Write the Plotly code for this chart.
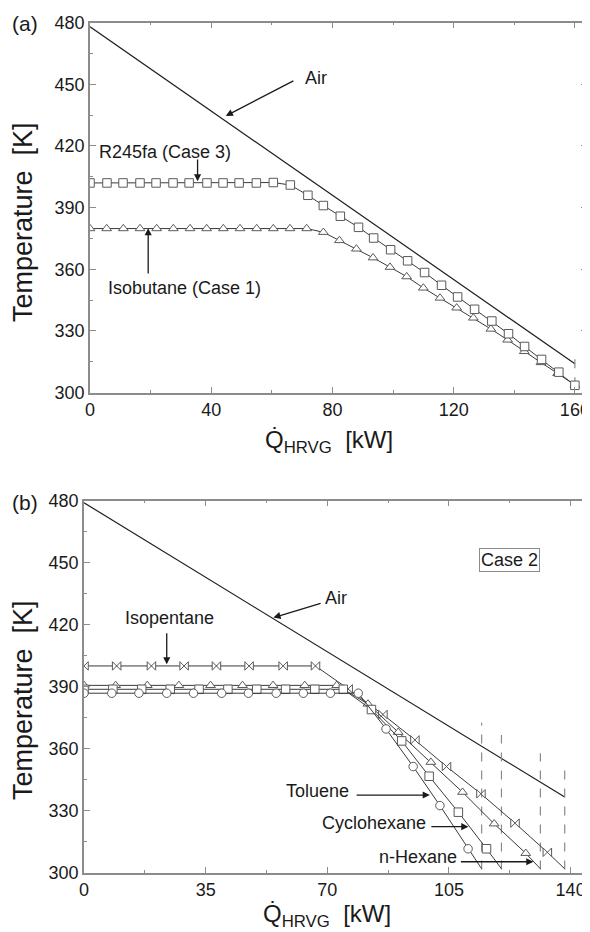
import plotly.graph_objects as go

# page body has an 8 px margin: the figure is drawn at (8, 8)
OX, OY = 8, 8
W, H = 590 - OX, 932 - OY
FONT = "Liberation Sans, Arial, Helvetica, sans-serif"

# ---------------- Panel (a) data ----------------
a_air_q = [0, 160]
a_air_t = [478, 314]

a_r245_q = [0, 5.6, 10.9, 16.5, 21.8, 27.4, 32.7, 38.6, 43.9, 49.2, 54.9, 60.5, 66.1, 71.9, 77.0,
            82.6, 88.6, 93.6, 99.2, 104.8, 110.4, 116.0, 121.3, 126.9, 132.6, 138.1, 143.4, 149.0, 154.7, 160.0]
a_r245_t = [402, 402, 402, 402, 402, 402, 402, 402, 402, 402, 402, 402.2, 401, 396, 391,
            385.8, 380.4, 375.2, 369.5, 364.1, 358.4, 352.2, 346.5, 340.5, 334.8, 328.6, 322.4, 316.1, 309.9, 303.5]

a_isob_q = [0, 5.5, 11.0, 16.5, 22.0, 27.5, 33.0, 38.5, 44.0, 49.5, 55.0, 60.5, 66.0, 71.5, 77.0,
            82.3, 87.9, 93.4, 99.0, 104.5, 110.0, 115.5, 121.0, 126.5, 132.3, 137.8, 143.3, 148.8, 154.3, 160.0]
a_isob_t = [379.8, 379.8, 379.8, 379.8, 379.8, 379.8, 379.8, 379.8, 379.8, 379.8, 379.8, 379.8, 379.8, 379.8, 378.0,
            374.0, 369.9, 365.6, 361.0, 356.4, 350.9, 346.0, 341.2, 336.3, 330.9, 325.6, 320.0, 314.6, 309.3, 303.6]

a_pinch_q = [160]
a_pinch_bottom = [303]
a_pinch_top = [320]

a_xticks = [0, 40, 80, 120, 160]

# ---------------- Panel (b) data ----------------
b_air_q = [0, 138.3]
b_air_t = [479, 336.5]

b_tol_q = [0, 8.0, 15.8, 23.8, 31.5, 39.6, 47.3, 55.3, 63.1, 70.9, 78.9, 86.9, 94.7, 102.4, 110.5]
b_tol_t = [386.8, 386.8, 386.8, 386.8, 386.8, 386.8, 386.8, 386.8, 386.8, 386.8, 386.8, 369.5, 351.3, 332.4, 311.5]
b_tol_end = (114.4, 301.8)

b_cyc_q = [0, 8.3, 16.6, 24.8, 33.1, 41.4, 49.7, 58.0, 66.4, 74.6, 82.7, 91.4, 99.3, 107.7, 115.8]
b_cyc_t = [388.7, 388.7, 388.7, 388.7, 388.7, 388.7, 388.7, 388.7, 388.7, 388.7, 378.9, 363.7, 346.6, 329.2, 311.5]
b_cyc_end = (120.1, 301.8)

b_hex_q = [0, 9.1, 18.2, 27.3, 36.4, 45.6, 54.4, 63.5, 72.7, 81.7, 90.4, 99.8, 108.9, 118.0, 127.1]
b_hex_t = [390.6, 390.6, 390.6, 390.6, 390.6, 390.6, 390.6, 390.6, 390.6, 381.6, 367.9, 353.4, 338.9, 323.6, 309.3]
b_hex_end = (131.3, 301.8)

b_ipe_q = [0, 9.4, 19.4, 28.8, 38.1, 47.5, 57.3, 66.6, 76.0, 86.0, 95.2, 104.3, 114.2, 124.0, 133.3]
b_ipe_t = [400, 400, 400, 400, 400, 400, 400, 400, 388.9, 376.5, 364.2, 351.3, 338.1, 323.9, 309.8]
b_ipe_end = (138.3, 301.8)

b_pinch_q = [114.4, 120.1, 131.3, 138.3]
b_pinch_top = [372.5, 366.6, 357.7, 350.4]
b_pinch_bottom = [301.5, 301.5, 301.5, 301.5]

b_xticks = [0, 35, 70, 105, 140]
yticks = [300, 330, 360, 390, 420, 450, 480]

LINE_C = "#3a3a3a"
MARK_C = "#5a5a5a"
AIR_C = "#1e1e1e"
DASH_C = "#8a8a8a"


def px(x):  # page pixel x -> paper fraction
    return (x - OX) / W


def py(y):  # page pixel y -> paper fraction
    return 1 - (y - OY) / H


fig = go.Figure()


def curve(q, t, end, symbol, xa, ya, size=8):
    lq = list(q) + ([end[0]] if end else [])
    lt = list(t) + ([end[1]] if end else [])
    fig.add_trace(go.Scatter(x=lq, y=lt, mode="lines", line=dict(color=LINE_C, width=1),
                             xaxis=xa, yaxis=ya, showlegend=False, hoverinfo="skip"))
    fig.add_trace(go.Scatter(x=q, y=t, mode="markers",
                             marker=dict(symbol=symbol, size=size, color="white",
                                         line=dict(color=MARK_C, width=1)),
                             xaxis=xa, yaxis=ya, showlegend=False, hoverinfo="skip"))


# Panel (a)
fig.add_trace(go.Scatter(x=a_air_q, y=a_air_t, mode="lines", line=dict(color=AIR_C, width=1.2),
                         xaxis="x", yaxis="y", showlegend=False))
for q, b, t in zip(a_pinch_q, a_pinch_bottom, a_pinch_top):
    fig.add_trace(go.Scatter(x=[q, q], y=[b, t], mode="lines",
                             line=dict(color=DASH_C, width=1.2, dash="dash"),
                             xaxis="x", yaxis="y", showlegend=False))
curve(a_isob_q, a_isob_t, None, "triangle-up", "x", "y", 8.5)
curve(a_r245_q, a_r245_t, None, "square", "x", "y", 8.5)

# Panel (b)
fig.add_trace(go.Scatter(x=b_air_q, y=b_air_t, mode="lines", line=dict(color=AIR_C, width=1.2),
                         xaxis="x2", yaxis="y2", showlegend=False))
for q, b, t in zip(b_pinch_q, b_pinch_bottom, b_pinch_top):
    fig.add_trace(go.Scatter(x=[q, q], y=[b, t], mode="lines",
                             line=dict(color=DASH_C, width=1.2, dash="dash"),
                             xaxis="x2", yaxis="y2", showlegend=False))
curve(b_ipe_q, b_ipe_t, b_ipe_end, "bowtie", "x2", "y2", 8.5)
curve(b_hex_q, b_hex_t, b_hex_end, "triangle-up", "x2", "y2", 8.5)
curve(b_cyc_q, b_cyc_t, b_cyc_end, "square", "x2", "y2", 8.5)
curve(b_tol_q, b_tol_t, b_tol_end, "circle", "x2", "y2", 8.5)

axis_common = dict(showline=True, mirror="allticks", linecolor="#8c8c8c", linewidth=1.5,
                   ticks="inside", ticklen=6, tickwidth=1.3, tickcolor="#8c8c8c",
                   showgrid=False, zeroline=False, automargin=False,
                   tickfont=dict(family=FONT, size=18, color="#1a1a1a"),
                   minor=dict(ticks="inside", ticklen=3, tickcolor="#8c8c8c", tickwidth=1.2, showgrid=False))

fig.update_layout(
    template="none",
    width=W, height=H, margin=dict(l=0, r=0, t=0, b=0, autoexpand=False),
    paper_bgcolor="white", plot_bgcolor="white",
    xaxis=dict(domain=[px(90), px(587)], range=[0, 164], tickvals=a_xticks, anchor="y",
               **{**axis_common, "minor": {**axis_common["minor"], "dtick": 20, "tick0": 0}}),
    yaxis=dict(domain=[py(392.5), py(22.7)], range=[300, 480], tickvals=yticks, anchor="x",
               **{**axis_common, "minor": {**axis_common["minor"], "dtick": 15, "tick0": 300}}),
    xaxis2=dict(domain=[px(84), min(1.0, px(588))], range=[0, 145], tickvals=b_xticks, anchor="y2",
                **{**axis_common, "minor": {**axis_common["minor"], "dtick": 17.5, "tick0": 0}}),
    yaxis2=dict(domain=[py(872.5), py(500.7)], range=[300, 480], tickvals=yticks, anchor="x2",
                **{**axis_common, "minor": {**axis_common["minor"], "dtick": 15, "tick0": 300}}),
)

ann = []
TF = dict(family=FONT, size=18, color="#1a1a1a")


def text(x, y, s, xr, yr, xanchor="left", font=None, **kw):
    ann.append(dict(x=x, y=y, xref=xr, yref=yr, text=s, showarrow=False, xanchor=xanchor,
                    yanchor="middle", font=font or TF, **kw))


def arrow(tx, ty, hx, hy, xr, yr):
    ann.append(dict(x=hx, y=hy, ax=tx, ay=ty, xref=xr, yref=yr, axref=xr, ayref=yr, text="",
                    showarrow=True, arrowhead=2, arrowsize=1.1, arrowwidth=1.3, arrowcolor="#1a1a1a",
                    standoff=0, startstandoff=0))


# panel (a) annotations
text(70.3, 453, "Air", "x", "y")
arrow(67.6, 452.1, 44.8, 434.6, "x", "y")
text(2.3, 417.2, "R245fa (Case 3)", "x", "y")
arrow(35.5, 414.1, 35.5, 402.8, "x", "y")
text(5.3, 350.9, "Isobutane (Case 1)", "x", "y")
arrow(19.2, 357.2, 19.2, 380.0, "x", "y")

# panel (b) annotations
text(11.3, 423.1, "Isopentane", "x2", "y2")
arrow(23.8, 416.6, 23.8, 400.8, "x2", "y2")
text(68.8, 432.7, "Air", "x2", "y2")
arrow(68.5, 430.5, 54.5, 423.4, "x2", "y2")
ann.append(dict(x=122.3, y=451.5, xref="x2", yref="y2", text="Case 2", showarrow=False,
                xanchor="center", yanchor="middle", font=TF, bordercolor="#8c8c8c", borderwidth=1,
                borderpad=1, bgcolor="white"))
text(57.5, 339.5, "Toluene", "x2", "y2")
arrow(78.0, 337.5, 99.5, 337.5, "x2", "y2")
text(67.9, 324.1, "Cyclohexane", "x2", "y2")
arrow(99.5, 322.2, 110.6, 322.2, "x2", "y2")
text(84.2, 307.4, "n-Hexane", "x2", "y2")
arrow(108.0, 305.2, 129.3, 305.2, "x2", "y2")

# panel labels
PF = dict(family=FONT, size=21, color="#1a1a1a")
text(px(10), py(24), "(a)", "paper", "paper", font=PF)
text(px(10), py(502), "(b)", "paper", "paper", font=PF)

# axis titles
TT = dict(family=FONT, size=27, color="#1a1a1a")
for yc in (222, 700):
    ann.append(dict(x=px(23), y=py(yc), xref="paper", yref="paper",
                    text="Temperature\u00a0\u00a0[K]", textangle=-90, showarrow=False,
                    xanchor="center", yanchor="middle", font=TT))
XT = dict(family=FONT, size=24, color="#1a1a1a")
for xc, yc in ((329, 441), (327, 915)):
    ann.append(dict(x=px(xc), y=py(yc), xref="paper", yref="paper",
                    text="Q\u0307<sub>HRVG</sub>\u00a0\u00a0[kW]", showarrow=False,
                    xanchor="center", yanchor="middle", font=XT))

fig.update_layout(annotations=ann)
fig.write_html("out.html")
